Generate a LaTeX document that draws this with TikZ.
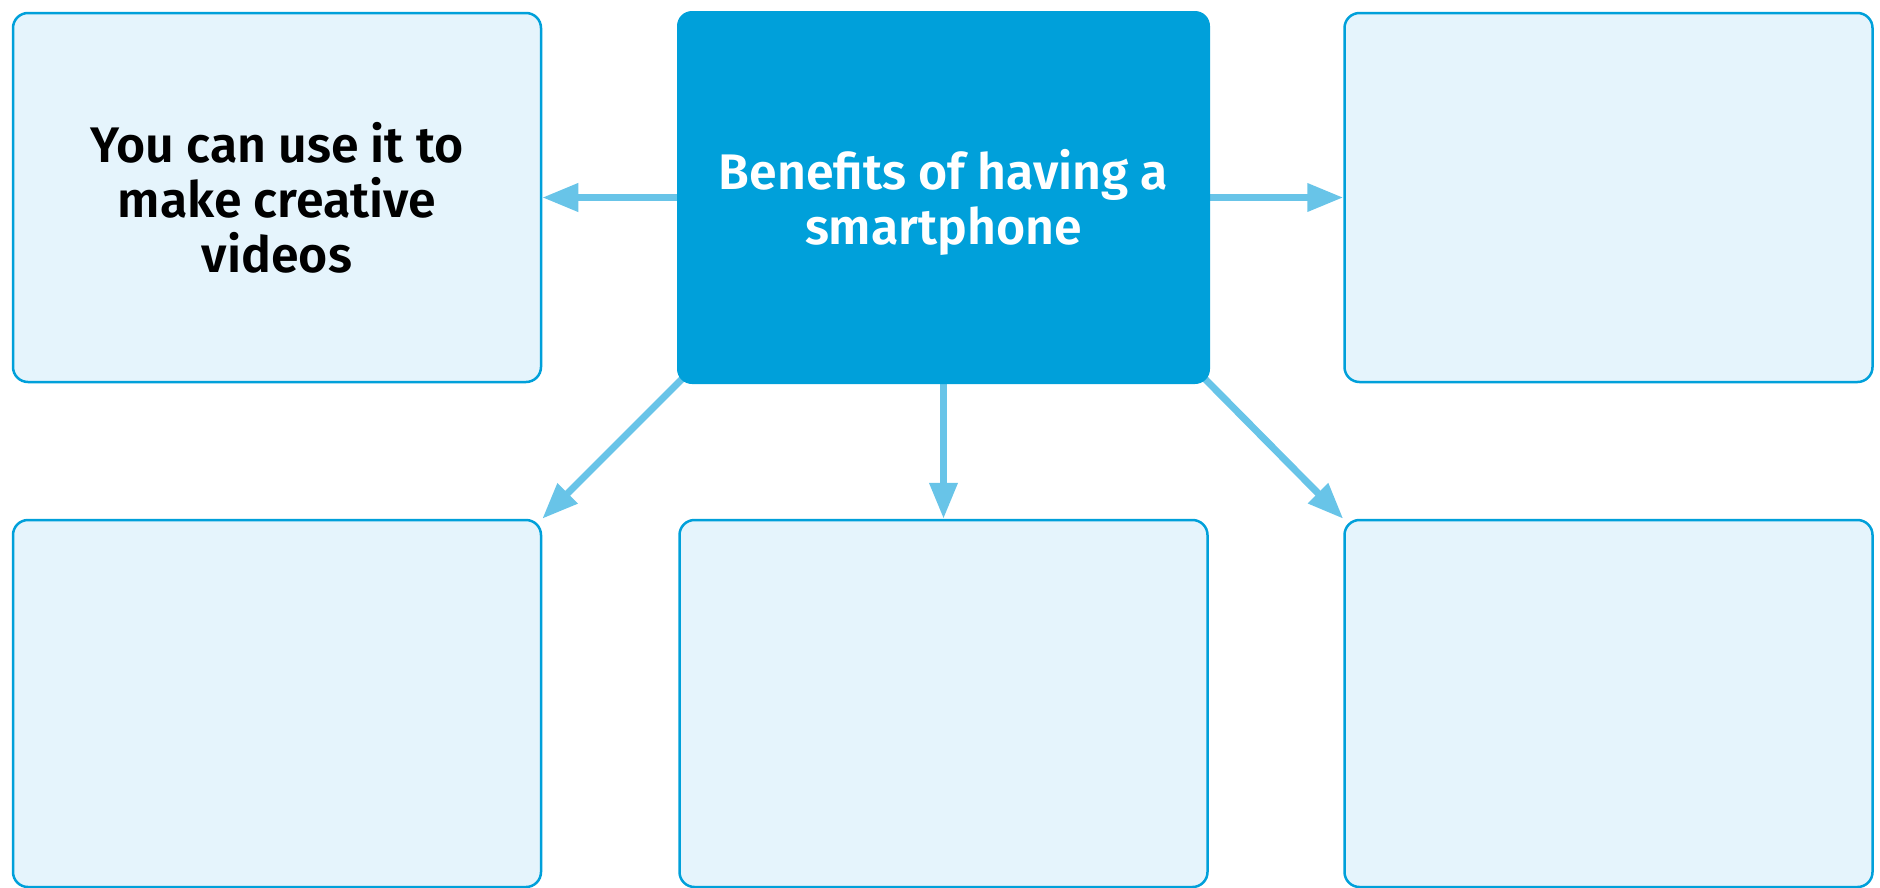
\documentclass[tikz,border=0pt]{standalone}
\usepackage{fontspec}
\setmainfont{Fira Sans}[BoldFont={Fira Sans SemiBold}]
\usetikzlibrary{arrows.meta,backgrounds}
\definecolor{mainblue}{HTML}{00A0DA}
\definecolor{boxfill}{HTML}{E5F4FC}
\definecolor{arrowblue}{HTML}{68C4E8}

\begin{document}
\begin{tikzpicture}[x=1pt,y=-1pt,
  box/.style={draw=mainblue,fill=boxfill,line width=2.5pt,rounded corners=15pt,minimum width=528pt,minimum height=369pt,inner sep=0pt},
  lowbox/.style={box,minimum height=367pt},
  words/.style={font=\fontsize{50}{55}\selectfont\bfseries,align=center},
  link/.style={draw=arrowblue,line width=7pt,-{Triangle[length=36pt,width=27pt]}}]
  \useasboundingbox (0,0) rectangle (1880,887);
  \node[box,words] (video) at (277,197.5) {You can use it to\\make creative\\videos};
  \node[fill=mainblue,rounded corners=15pt,minimum width=533pt,minimum height=373pt,text=white,words] (benefits) at (943.5,197.5) {\rule{0pt}{50pt}Benefits of having a\\smartphone};
  \node[box] (right) at (1608.5,197.5) {};
  \node[lowbox] (lowleft) at (277,703.5) {};
  \node[lowbox] (lowmid) at (943.5,703.5) {};
  \node[lowbox] (lowright) at (1608.5,703.5) {};
  \begin{scope}[on background layer]
    \draw[link] (benefits.west) -- (video.east);
    \draw[link] (benefits.east) -- (right.west);
    \draw[link,shorten <=-10pt] (benefits.south west) -- (lowleft.north east);
    \draw[link] (benefits.south) -- (lowmid.north);
    \draw[link,shorten <=-10pt] (benefits.south east) -- (lowright.north west);
  \end{scope}
\end{tikzpicture}
\end{document}
